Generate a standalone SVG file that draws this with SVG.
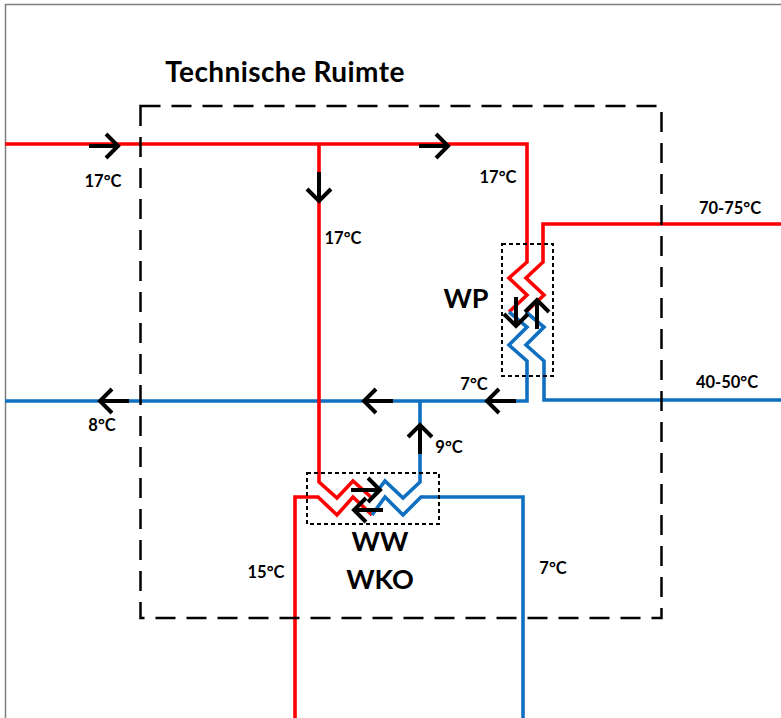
<svg xmlns="http://www.w3.org/2000/svg" width="781" height="718" viewBox="0 0 781 718">
<defs>
<style>
.pr{fill:none;stroke:#ff0000;stroke-width:3.600}
.pb{fill:none;stroke:#0f6fc1;stroke-width:3.600}
.ar{fill:none;stroke:#000;stroke-width:4}
.t{font-family:Lato,"Liberation Sans",sans-serif;font-weight:700;fill:#000;text-anchor:middle}
.s{font-size:16.500px}
.l{font-size:27px}
</style>
<path id="a" d="M-29 0H0M-12 -12L0 0L-12 12" class="ar"/>
</defs>
<rect width="781" height="718" fill="#fff"/>
<path d="M5.500 718V4.500H781" fill="none" stroke="#7f7f7f" stroke-width="1.500"/>
<g id="connectors">
<path class="pr" d="M5 144H527V262L509 278L527 295L509 312"/>
<path class="pb" d="M5 401H527V361L509 345L527 327L509 312"/>
<path class="pr" d="M781 224H543V262L526 278L544 295L526 312"/>
<path class="pb" d="M781 400H544V361L526 345L544 327L526 312"/>
<path class="pr" d="M319 144V482L337 498L353 481L372 498"/>
<path class="pb" d="M372 498L385 481L403 498L420 482V401"/>
<path class="pr" d="M295 718V497H318L337 515L353 497L372 515"/>
<path class="pb" d="M372 515L385 497L403 515L421 497H523V718"/>
</g>
<g id="boundary"><rect x="140.500" y="106" width="521" height="512" fill="none" stroke="#000" stroke-width="2.500" stroke-dasharray="20 11"/></g>
<g id="wp"><rect x="502" y="244" width="51" height="132" fill="none" stroke="#000" stroke-width="2" stroke-dasharray="4 3"/><text class="t l" x="466" y="308">WP</text></g>
<g id="ww"><rect x="307" y="473" width="132" height="51" fill="none" stroke="#000" stroke-width="2" stroke-dasharray="4 3"/><text class="t l" x="380" y="551">WW</text><text class="t l" x="380" y="589">WKO</text></g>
<g id="arrows">
<use href="#a" transform="translate(118,146)"/>
<use href="#a" transform="translate(448,146)"/>
<use href="#a" transform="translate(319,201) rotate(90)"/>
<use href="#a" transform="translate(516,326) rotate(90)"/>
<use href="#a" transform="translate(537,300) rotate(-90)"/>
<use href="#a" transform="translate(487,401) rotate(180)"/>
<use href="#a" transform="translate(364,401) rotate(180)"/>
<use href="#a" transform="translate(100,401) rotate(180)"/>
<use href="#a" transform="translate(420,425) rotate(-90)"/>
<use href="#a" transform="translate(380,490)"/>
<use href="#a" transform="translate(354,510) rotate(180)"/>
</g>
<g id="labels">
<text class="t" x="285" y="82" style="font-size:28px;letter-spacing:0.400px">Technische Ruimte</text>
<text class="t s" x="103" y="187">17°C</text>
<text class="t s" x="498" y="183">17°C</text>
<text class="t s" x="343" y="244">17°C</text>
<text class="t s" x="730" y="214">70-75°C</text>
<text class="t s" x="727" y="388">40-50°C</text>
<text class="t s" x="474" y="390">7°C</text>
<text class="t s" x="102" y="431">8°C</text>
<text class="t s" x="449" y="453">9°C</text>
<text class="t s" x="266" y="578">15°C</text>
<text class="t s" x="553" y="574">7°C</text>
</g>
</svg>
